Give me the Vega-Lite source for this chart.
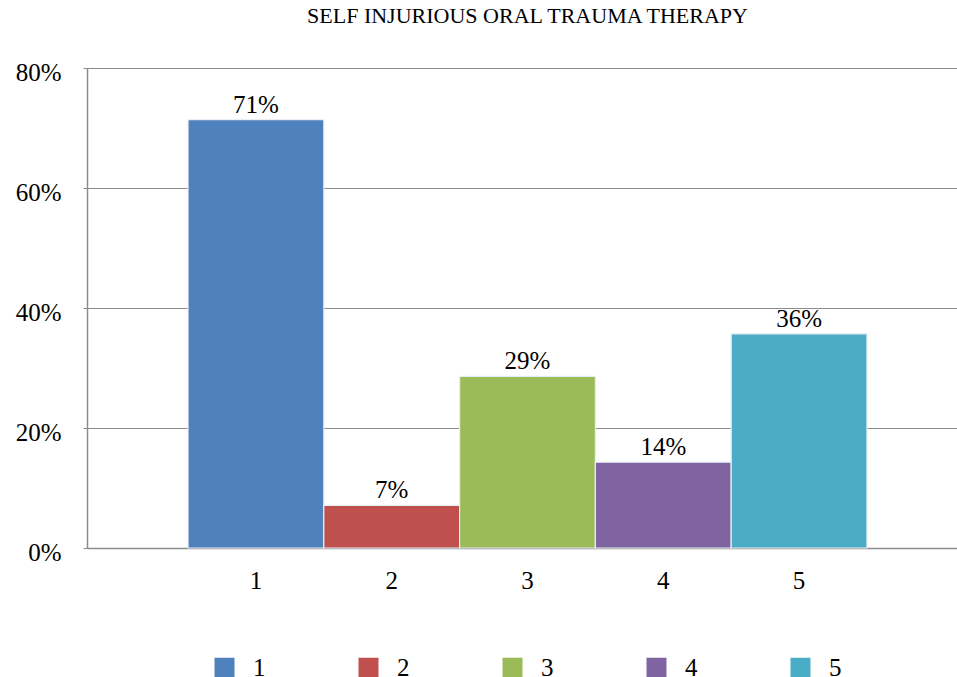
{
  "$schema": "https://vega.github.io/schema/vega-lite/v6.json",
  "autosize": {"type": "none"},
  "width": 881,
  "height": 480,
  "padding": {"left": 87, "top": 68, "right": 10, "bottom": 129},
  "background": "white",
  "title": {
    "text": "SELF INJURIOUS ORAL TRAUMA THERAPY",
    "anchor": "middle",
    "frame": "group",
    "font": "Liberation Serif",
    "fontSize": 22,
    "fontWeight": "normal",
    "color": "#000000",
    "offset": 32
  },
  "data": {
    "values": [
      {"group": "1", "value": 0.714},
      {"group": "2", "value": 0.071},
      {"group": "3", "value": 0.286},
      {"group": "4", "value": 0.143},
      {"group": "5", "value": 0.357}
    ]
  },
  "encoding": {
    "x": {
      "field": "group",
      "type": "nominal",
      "scale": {"paddingInner": 0, "paddingOuter": 0.744},
      "axis": {
        "title": null,
        "labelAngle": 0,
        "ticks": false,
        "labelPadding": 20,
        "labelFont": "Liberation Serif",
        "labelFontSize": 25,
        "labelColor": "#000000",
        "domainColor": "#8c8c8c",
        "domainWidth": 1.5
      }
    },
    "y": {
      "field": "value",
      "type": "quantitative",
      "scale": {"domain": [0, 0.8], "nice": false},
      "axis": {
        "title": null,
        "values": [0, 0.2, 0.4, 0.6, 0.8],
        "format": ".0%",
        "tickSize": 4,
        "tickColor": "#8c8c8c",
        "labelPadding": 22,
        "labelFont": "Liberation Serif",
        "labelFontSize": 25,
        "labelColor": "#000000",
        "labelBaseline": "middle",
        "labelOffset": 4,
        "domainColor": "#8c8c8c",
        "domainWidth": 1.5,
        "gridColor": "#8c8c8c",
        "gridWidth": 1.2
      }
    }
  },
  "layer": [
    {
      "mark": {"type": "bar", "stroke": "#e8eef6", "strokeWidth": 1.2},
      "encoding": {
        "color": {
          "field": "group",
          "type": "nominal",
          "scale": {"range": ["#4F81BD", "#C0504D", "#9BBB59", "#8064A2", "#4BACC6"]},
          "legend": {
            "title": null,
            "orient": "none",
            "legendX": 125,
            "legendY": 587,
            "padding": 0,
            "direction": "horizontal",
            "symbolType": "square",
            "symbolSize": 400,
            "symbolStrokeWidth": 0,
            "symbolOpacity": 1,
            "labelFont": "Liberation Serif",
            "labelFontSize": 25,
            "labelColor": "#000000",
            "labelOffset": 16,
            "columnPadding": 90
          }
        }
      }
    },
    {
      "mark": {
        "type": "text",
        "baseline": "alphabetic",
        "dy": -7,
        "font": "Liberation Serif",
        "fontSize": 25,
        "color": "#000000"
      },
      "encoding": {
        "text": {"field": "value", "type": "quantitative", "format": ".0%"}
      }
    }
  ],
  "config": {
    "view": {"stroke": null}
  }
}
